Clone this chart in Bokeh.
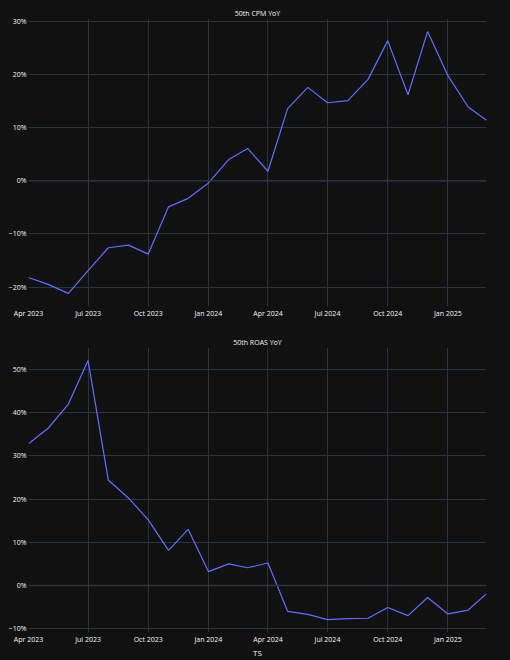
import pandas as pd
from bokeh.plotting import figure
from bokeh.layouts import column
from bokeh.models import (ColumnDataSource, Range1d, MonthsTicker, SingleIntervalTicker,
                          DatetimeTickFormatter, CustomJSTickFormatter, Span,
                          GlobalInlineStyleSheet)
from bokeh.embed import file_html
from bokeh.resources import INLINE

# ---- data ----
months = ["2023-04", "2023-05", "2023-06", "2023-07", "2023-08", "2023-09",
          "2023-10", "2023-11", "2023-12", "2024-01", "2024-02", "2024-03",
          "2024-04", "2024-05", "2024-06", "2024-07", "2024-08", "2024-09",
          "2024-10", "2024-11", "2024-12", "2025-01", "2025-02", "2025-03"]
cpm_yoy = [-18.2, -19.5, -21.2, -16.9, -12.6, -12.1, -13.8, -4.9, -3.3, -0.4, 4.0, 6.1,
           1.8, 13.6, 17.6, 14.7, 15.1, 19.1, 26.4, 16.2, 28.1, 19.8, 13.9, 11.4]
roas_yoy = [32.8, 36.4, 42.0, 52.1, 24.4, 20.2, 15.2, 8.1, 13.0, 3.2, 5.0, 4.1,
            5.2, -6.0, -6.7, -7.9, -7.7, -7.6, -5.1, -7.0, -2.8, -6.6, -5.7, -1.9]
titles = ["50th CPM YoY", "50th ROAS YoY"]
x_title = "TS"

dates = pd.to_datetime([m + "-01" for m in months])

BG = "#111111"
GRID = "#283442"
TXT = "#f2f5fa"
LINE = "#636efa"
FONT = "Open Sans"

pct_fmt = CustomJSTickFormatter(code="""
    const v = Math.round(tick);
    return (v < 0 ? "\\u2212" : "") + Math.abs(v) + "%";
""")


def make_fig(vals, title, height, top, bottom, show_xlabel):
    lo, hi = min(vals), max(vals)
    pad = (hi - lo) * 0.05
    p = figure(width=510, height=height, x_axis_type="datetime",
               x_range=Range1d(dates[0], dates[-1]),
               y_range=Range1d(lo - pad, hi + pad),
               output_backend="svg", toolbar_location=None,
               min_border_left=28, min_border_right=24,
               min_border_top=top, min_border_bottom=bottom)
    p.background_fill_color = BG
    p.border_fill_color = BG
    p.outline_line_color = None

    p.title.text = title
    p.title.align = "center"
    p.title.text_font = FONT
    p.title.text_font_size = "7px"
    p.title.text_font_style = "normal"
    p.title.text_color = TXT
    p.title.standoff = 2
    p.title.offset = 0

    src = ColumnDataSource(dict(x=dates, y=vals))
    p.line("x", "y", source=src, line_color=LINE, line_width=1.2)

    zero = Span(location=0, dimension="width", line_color=GRID, line_width=1.6)
    p.add_layout(zero)

    p.xaxis.ticker = MonthsTicker(months=[0, 3, 6, 9])
    p.xaxis.formatter = DatetimeTickFormatter(months="%b %Y", days="%b %Y", years="%Y")
    p.yaxis.ticker = SingleIntervalTicker(interval=10)
    p.yaxis.formatter = pct_fmt

    for ax in (p.xaxis, p.yaxis):
        ax.axis_line_color = None
        ax.major_tick_line_color = None
        ax.minor_tick_line_color = None
        ax.major_tick_out = 0
        ax.major_tick_in = 0
        ax.minor_tick_out = 0
        ax.minor_tick_in = 0
        ax.major_label_text_font = FONT
        ax.major_label_text_font_size = "7px"
        ax.major_label_text_color = TXT
    p.yaxis.major_label_standoff = 2
    p.xaxis.major_label_standoff = 2

    if show_xlabel:
        p.xaxis.axis_label = x_title
        p.xaxis.axis_label_text_font = FONT
        p.xaxis.axis_label_text_font_size = "8px"
        p.xaxis.axis_label_text_font_style = "normal"
        p.xaxis.axis_label_text_color = TXT
        p.xaxis.axis_label_standoff = 0

    p.xgrid.grid_line_color = GRID
    p.ygrid.grid_line_color = GRID
    p.xgrid.grid_line_width = 1
    p.ygrid.grid_line_width = 1
    return p


p1 = make_fig(cpm_yoy, titles[0], 330, 18, 24, False)
p2 = make_fig(roas_yoy, titles[1], 330, 17, 26, True)

layout = column(p1, p2, spacing=0)
layout.stylesheets = [GlobalInlineStyleSheet(
    css="html, body { background-color: #111111; margin: 0; padding: 0; overflow: hidden; }")]

open("out.html", "w").write(file_html(layout, INLINE))
